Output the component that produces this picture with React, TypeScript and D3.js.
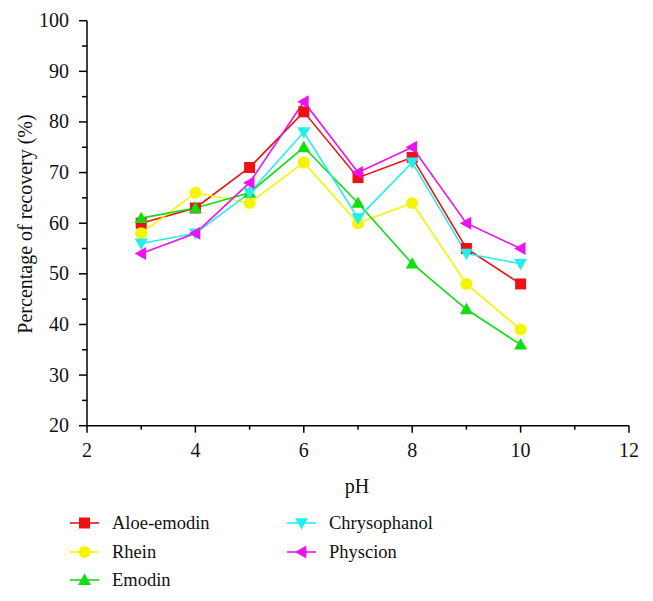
import React, { useEffect, useRef } from "react";
import * as d3 from "d3";

// pH values on the x axis
const phValues = [3, 4, 5, 6, 7, 8, 9, 10];

// recovery (%) for each compound
const aloeEmodin = [60, 63, 71, 82, 69, 73, 55, 48];
const rhein = [58, 66, 64, 72, 60, 64, 48, 39];
const emodin = [61, 63, 66, 75, 64, 52, 43, 36];
const chrysophanol = [56, 58, 66, 78, 61, 72, 54, 52];
const physcion = [54, 58, 68, 84, 70, 75, 60, 55];

const seriesNames = ["Aloe-emodin", "Rhein", "Emodin", "Chrysophanol", "Physcion"];
const xTicks = [2, 4, 6, 8, 10, 12];
const yTicks = [20, 30, 40, 50, 60, 70, 80, 90, 100];

const App = () => {
  const svgRef = useRef<SVGSVGElement | null>(null);

  useEffect(() => {
    if (!svgRef.current) return;
    const svg = d3.select(svgRef.current);
    svg.selectAll("*").remove();

    const font = "Liberation Serif, DejaVu Serif, serif";
    const left = 87;
    const right = 629;
    const top = 20.7;
    const bottom = 425.7;

    const x = d3.scaleLinear().domain([2, 12]).range([left, right]);
    const y = d3.scaleLinear().domain([20, 100]).range([bottom, top]);

    const series = [
      { name: seriesNames[0], values: aloeEmodin, color: "#ee1111", symbol: "square" },
      { name: seriesNames[1], values: rhein, color: "#f5f500", symbol: "circle" },
      { name: seriesNames[2], values: emodin, color: "#11dd11", symbol: "up" },
      { name: seriesNames[3], values: chrysophanol, color: "#22eeee", symbol: "down" },
      { name: seriesNames[4], values: physcion, color: "#ee11ee", symbol: "left" },
    ];

    // draw a marker at (cx, cy)
    const drawMarker = (g: any, symbol: string, cx: number, cy: number, color: string) => {
      const s = 6.5;
      if (symbol === "square") {
        g.append("rect")
          .attr("x", cx - 5.5)
          .attr("y", cy - 5.5)
          .attr("width", 11)
          .attr("height", 11)
          .attr("fill", color);
      } else if (symbol === "circle") {
        g.append("circle").attr("cx", cx).attr("cy", cy).attr("r", 6).attr("fill", color);
      } else {
        let pts: number[][] = [];
        if (symbol === "up") pts = [[0, -s], [s, s * 0.75], [-s, s * 0.75]];
        if (symbol === "down") pts = [[0, s], [s, -s * 0.75], [-s, -s * 0.75]];
        if (symbol === "left") pts = [[-s, 0], [s * 0.75, -s], [s * 0.75, s]];
        g.append("path")
          .attr("d", "M" + pts.map((p) => `${cx + p[0]},${cy + p[1]}`).join("L") + "Z")
          .attr("fill", color);
      }
    };

    // axes
    const axisG = svg.append("g").attr("stroke", "#000").attr("stroke-width", 1.5);
    axisG.append("line").attr("x1", left).attr("x2", left).attr("y1", top).attr("y2", bottom);
    axisG.append("line").attr("x1", left).attr("x2", right).attr("y1", bottom).attr("y2", bottom);

    d3.range(2, 12.01, 1).forEach((t) => {
      const major = t % 2 === 0;
      axisG
        .append("line")
        .attr("x1", x(t))
        .attr("x2", x(t))
        .attr("y1", bottom)
        .attr("y2", bottom + (major ? 7 : 4));
    });
    d3.range(20, 100.01, 5).forEach((t) => {
      const major = t % 10 === 0;
      axisG
        .append("line")
        .attr("x1", left)
        .attr("x2", left - (major ? 8 : 5))
        .attr("y1", y(t))
        .attr("y2", y(t));
    });

    const textStyle = (sel: any, size = 20) =>
      sel.attr("font-family", font).attr("font-size", size).attr("fill", "#111");

    svg
      .append("g")
      .selectAll("text")
      .data(xTicks)
      .join("text")
      .attr("x", (d) => x(d))
      .attr("y", bottom + 31)
      .attr("text-anchor", "middle")
      .call(textStyle)
      .text((d) => d);

    svg
      .append("g")
      .selectAll("text")
      .data(yTicks)
      .join("text")
      .attr("x", left - 18)
      .attr("y", (d) => y(d) + 6.5)
      .attr("text-anchor", "end")
      .call(textStyle)
      .text((d) => d);

    svg
      .append("text")
      .attr("transform", `translate(32, 224) rotate(-90)`)
      .attr("text-anchor", "middle")
      .call(textStyle)
      .text("Percentage of recovery (%)");

    svg
      .append("text")
      .attr("x", 357)
      .attr("y", 493)
      .attr("text-anchor", "middle")
      .call(textStyle)
      .text("pH");

    // lines
    const line = d3
      .line<number>()
      .x((_, i) => x(phValues[i]))
      .y((d) => y(d));

    series.forEach((s) => {
      svg
        .append("path")
        .attr("d", line(s.values))
        .attr("fill", "none")
        .attr("stroke", s.color)
        .attr("stroke-width", 1.6);
    });
    series.forEach((s) => {
      const g = svg.append("g");
      s.values.forEach((v, i) => drawMarker(g, s.symbol, x(phValues[i]), y(v), s.color));
    });

    // legend
    const legendPos = [
      [70, 523],
      [70, 552],
      [70, 580],
      [287, 523],
      [287, 552],
    ];
    series.forEach((s, i) => {
      const [lx, ly] = legendPos[i];
      const g = svg.append("g");
      g.append("line")
        .attr("x1", lx)
        .attr("x2", lx + 29)
        .attr("y1", ly)
        .attr("y2", ly)
        .attr("stroke", s.color)
        .attr("stroke-width", 1.6);
      drawMarker(g, s.symbol, lx + 14.5, ly, s.color);
      g.append("text")
        .attr("x", lx + 42)
        .attr("y", ly + 6)
        .call(textStyle, 18.5)
        .text(s.name);
    });
  }, []);

  return (
    <svg
      ref={svgRef}
      width={653}
      height={601}
      style={{ position: "absolute", left: 0, top: 0, background: "#fff" }}
    />
  );
};

export default App;
